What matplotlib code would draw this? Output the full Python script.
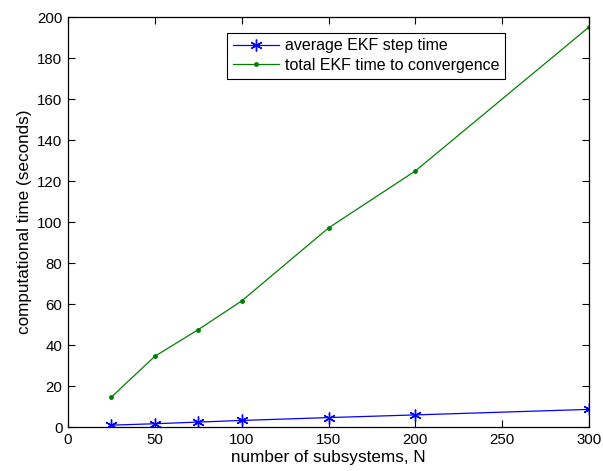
import matplotlib
matplotlib.use("Agg")
import matplotlib.pyplot as plt

plt.rcParams['font.family'] = ['Liberation Sans', 'DejaVu Sans']

n_subsystems = [25, 50, 75, 100, 150, 200, 300]
avg_step_time = [0.9, 1.6, 2.4, 3.2, 4.6, 5.9, 8.6]
total_time = [14.6, 34.5, 47.5, 61.5, 97.1, 124.9, 195.1]

xticks = [0, 50, 100, 150, 200, 250, 300]
yticks = [0, 20, 40, 60, 80, 100, 120, 140, 160, 180, 200]

fig = plt.figure(figsize=(6.03, 4.71), dpi=100)
ax = fig.add_axes([0.1128, 0.0934, 0.864, 0.8705])

# asterisk marker: six-armed star made of lines
asterisk = (6, 2, 0)
ax.plot(n_subsystems, avg_step_time, color='#0000ff', marker=asterisk,
        markersize=8.5, markeredgewidth=1.0, linewidth=0.9,
        label='average EKF step time')
ax.plot(n_subsystems, total_time, color='#008000', marker='.', markersize=5,
        linewidth=0.9, label='total EKF time to convergence')

ax.set_xlim(0, 300)
ax.set_ylim(0, 200)
ax.set_xticks(xticks)
ax.set_yticks(yticks)
ax.tick_params(direction='in', top=True, right=True, length=5, width=0.8,
               labelsize=10.8, pad=4)
for s in ax.spines.values():
    s.set_linewidth(0.9)

ax.set_xlabel('number of subsystems, N', fontsize=12.3, labelpad=2.5)
ax.set_ylabel('computational time (seconds)', fontsize=12.3, labelpad=4)

leg = ax.legend(loc='upper left', bbox_to_anchor=(0.305, 0.962), fontsize=11.5,
                fancybox=False, framealpha=1, edgecolor='black',
                handlelength=2.9, borderpad=0.35, labelspacing=0.3,
                handletextpad=0.4, borderaxespad=0)
leg.get_frame().set_linewidth(0.8)

fig.savefig('out.png', dpi=100)
